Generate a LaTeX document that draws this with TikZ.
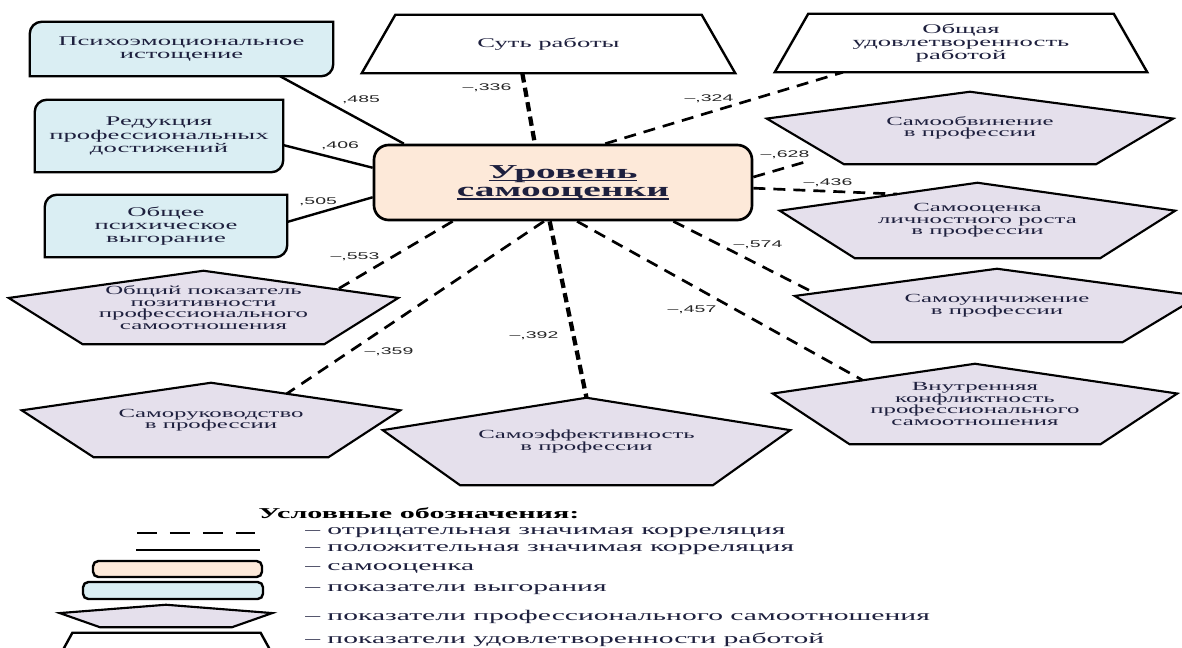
\documentclass[tikz,border=0pt]{standalone}
\usepackage{fontspec}
\setmainfont{Liberation Serif}[FakeStretch=2]
\newfontfamily\cifry{Liberation Sans}[FakeStretch=2]
\usetikzlibrary{calc,fit,backgrounds}

\definecolor{vygoranie}{RGB}{218,238,243}
\definecolor{samootn}{RGB}{229,224,236}
\definecolor{ocenka}{RGB}{253,233,217}
\definecolor{tekst}{RGB}{30,32,62}

% подчеркивание в центральном узле
\newcommand{\podch}[1]{\setbox0=\hbox{#1}\rlap{\vrule height -1.3pt depth 2.4pt width \wd0}\box0}
% строки текста по центру (базовая линия посередине), с точным интервалом и сдвигом вниз
\newcommand{\stroki}[2][0pt]{\leavevmode\setbox2=\vbox{\lineskiplimit=-20pt\let\\\cr
		\halign{\hfil##\hfil\cr#2\crcr}}%
	\dimen2=\dimexpr(\dp2-\ht2)/2-#1\relax\raise\dimen2\box2}

\begin{document}
\begin{tikzpicture}[x=0.75pt,y=-0.75pt,
	uzel/.style={inner sep=0pt,text=tekst,font=\fontsize{10}{10}\selectfont},
	pentuzel/.style={uzel,font=\fontsize{9.3}{8.6}\selectfont},
	kontur/.style={draw=black,line width=1.8pt},
	polkor/.style={line width=1.8pt},
	otrkor/.style={line width=2pt,dash pattern=on 9pt off 6pt},
	otrkorb/.style={line width=3.2pt,dash pattern=on 7pt off 4pt},
	koef/.style={font=\cifry\fontsize{7.3}{8}\selectfont,text=black!85,inner sep=1pt},
	legtxt/.style={anchor=west,inner sep=0pt,text=tekst,font=\fontsize{11.1}{12}\selectfont}]
	\useasboundingbox (0,0) rectangle (1182,647);
	
	% Центральный узел
	\node[uzel,minimum width=283.5pt,minimum height=56.25pt,draw,fill=ocenka,rounded corners=11pt,line width=2pt,
	font=\bfseries\fontsize{14.8}{13.6}\selectfont] (lvl) at (563,182.5) {\stroki{\podch{Уровень}\\\podch{самооценки}}};
	
	% Показатели выгорания
	\node[uzel,minimum width=227.25pt,minimum height=40.5pt] (ps) at (181.5,49) {\stroki{Психоэмоциональное\\истощение}};
	\node[uzel,minimum width=186pt,minimum height=54pt] (red) at (159,136) {\stroki{Редукция\\профессиональных\\достижений}};
	\node[uzel,minimum width=181.5pt,minimum height=46.5pt] (gen) at (166,226) {\stroki{Общее\\психическое\\выгорание}};
	
	% Удовлетворенность работой
	\node[uzel,minimum width=279.75pt,minimum height=43.5pt] (sut) at (548.5,44) {\stroki{Суть работы}};
	\node[uzel,minimum width=279pt,minimum height=43.5pt] (udov) at (961,43) {\stroki[1pt]{Общая\\удовлетворенность\\работой}};
	
	% Профессиональное самоотношение
	\node[pentuzel,minimum width=304.5pt,minimum height=54pt] (samoobv) at (970,128) {\stroki[2pt]{Самообвинение\\в профессии}};
	\node[pentuzel,minimum width=296.25pt,minimum height=56.25pt] (lichrost) at (977.5,220.5) {\stroki[2pt]{Самооценка\\личностного роста\\в профессии}};
	\node[pentuzel,minimum width=303pt,minimum height=54.75pt] (unich) at (997,305.5) {\stroki[2pt]{Самоуничижение\\в профессии}};
	\node[pentuzel,minimum width=303pt,minimum height=60pt] (konfl) at (975,404) {\stroki[2pt]{Внутренняя\\конфликтность\\профессионального\\самоотношения}};
	\node[pentuzel,minimum width=291.75pt,minimum height=54.75pt] (obsh) at (203.5,307.5) {\stroki[2pt]{Общий показатель\\позитивности\\профессионального\\самоотношения}};
	\node[pentuzel,minimum width=283.5pt,minimum height=55.5pt] (samoruk) at (211,420) {\stroki[2pt]{Саморуководство\\в профессии}};
	\node[pentuzel,minimum width=305.25pt,minimum height=65.25pt] (samoeff) at (586.5,441.5) {\stroki[2pt]{Самоэффективность\\в профессии}};
	
	% Легенда
	\node[anchor=west,inner sep=0pt,font=\bfseries\fontsize{11.3}{12}\selectfont] (legzag) at (258,513) {Условные обозначения:};
	\coordinate (otr-a) at (137,533);
	\coordinate (otr-b) at (255,533);
	\coordinate (pol-a) at (136,550);
	\coordinate (pol-b) at (260,550);
	\node[fit={(93,561) (262,577)},inner sep=0pt,draw,line width=1.8pt,rounded corners=4pt,fill=ocenka] (legocen) {};
	\node[fit={(83,582) (263,599)},inner sep=0pt,draw,line width=1.8pt,rounded corners=4pt,fill=vygoranie] (legvyg) {};
	\node[fit={(60,605) (272,627)},inner sep=0pt] (legpent) {};
	\node[fit={(52,633) (281,670)},inner sep=0pt] (legtrap) {};
	\node[legtxt] (t1) at (305,533) {– отрицательная значимая корреляция};
	\node[legtxt] (t2) at (305,550) {– положительная значимая корреляция};
	\node[legtxt] (t3) at (305,568) {– самооценка};
	\node[legtxt] (t4) at (305,590) {– показатели выгорания};
	\node[legtxt] (t5) at (305,617) {– показатели профессионального самоотношения};
	\node[legtxt] (t6) at (305,640) {– показатели удовлетворенности работой};
	\draw[line width=1.5pt,dash pattern=on 15pt off 9.7pt] (otr-a) -- (otr-b);
	\draw[line width=1.6pt] (pol-a) -- (pol-b);
	
	% Фигуры под текстом
	\begin{scope}[on background layer]
		\foreach \n in {ps,red,gen}
		\filldraw[kontur,fill=vygoranie] (\n.north east) [rounded corners=9pt] -- (\n.south east) [sharp corners] -- (\n.south west) [rounded corners=9pt] -- (\n.north west) [sharp corners] -- cycle;
		\foreach \n in {sut,udov,legtrap}
		\filldraw[kontur,fill=white] ($(\n.north west)!.09!(\n.north east)$) -- ($(\n.north east)!.09!(\n.north west)$) -- (\n.south east) -- (\n.south west) -- cycle;
		\foreach \n in {samoobv,lichrost,unich,konfl,obsh,samoruk,samoeff,legpent}{
			\coordinate (\n-l) at ($(\n.north west)!.37!(\n.south west)$);
			\coordinate (\n-r) at ($(\n.north east)!.37!(\n.south east)$);
			\coordinate (\n-bl) at ($(\n.south west)!.19!(\n.south east)$);
			\coordinate (\n-br) at ($(\n.south east)!.19!(\n.south west)$);
			\filldraw[kontur,line width=1.6pt,fill=samootn] (\n.north) -- (\n-r) -- (\n-br) -- (\n-bl) -- (\n-l) -- cycle;
		}
	\end{scope}
	
	% Положительные связи
	\draw[polkor] ($(ps.south west)!.825!(ps.south east)$) -- ($(lvl.north west)!.082!(lvl.north east)$);
	\draw[polkor] ($(red.north east)!.625!(red.south east)$) -- ($(lvl.north west)!.31!(lvl.south west)$);
	\draw[polkor] ($(gen.north east)!.435!(gen.south east)$) -- ($(lvl.north west)!.69!(lvl.south west)$);
	
	% Отрицательные связи
	\draw[otrkorb] ($(sut.south west)!.43!(sut.south east)$) -- ($(lvl.north west)!.426!(lvl.north east)$);
	\draw[otrkor] ($(lvl.north west)!.611!(lvl.north east)$) -- ($(udov.south west)!.183!(udov.south east)$);
	\draw[otrkor,shorten >=14pt] ($(lvl.north east)!.43!(lvl.south east)$) -- ($(samoobv-l)!.8!(samoobv-bl)$);
	\draw[otrkor] ($(lvl.north east)!.573!(lvl.south east)$) -- ($(lichrost-l)!.594!(lichrost.north)$);
	\draw[otrkor] ($(lvl.south west)!.79!(lvl.south east)$) -- ($(unich-l)!.1!(unich.north)$);
	\draw[otrkor] ($(lvl.south west)!.537!(lvl.south east)$) -- ($(konfl-l)!.445!(konfl.north)$);
	\draw[otrkorb] ($(lvl.south west)!.465!(lvl.south east)$) -- (samoeff.north);
	\draw[otrkor] ($(lvl.south west)!.45!(lvl.south east)$) -- ($(samoruk.north)!.4!(samoruk-r)$);
	\draw[otrkor] ($(lvl.south west)!.21!(lvl.south east)$) -- ($(obsh.north)!.687!(obsh-r)$);
	
	% Коэффициенты корреляции
	\node[koef] (k485) at (361,100) {,485};
	\node[koef] (k406) at (340,146) {,406};
	\node[koef] (k505) at (318,202) {,505};
	\node[koef] (k336) at (487,88) {–,336};
	\node[koef] (k324) at (709,99) {–,324};
	\node[koef] (k628) at (785,155) {–,628};
	\node[koef] (k436) at (828,183) {–,436};
	\node[koef] (k574) at (758,245) {–,574};
	\node[koef] (k457) at (692,310) {–,457};
	\node[koef] (k392) at (534,336) {–,392};
	\node[koef] (k359) at (389,352) {–,359};
	\node[koef] (k553) at (355,257) {–,553};
\end{tikzpicture}
\end{document}
